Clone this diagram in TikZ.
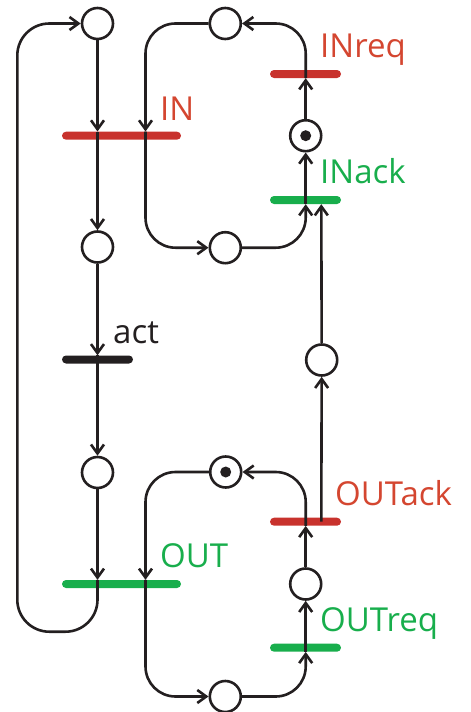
\documentclass[tikz,border=0pt]{standalone}
\usepackage{fontspec}
\setmainfont{Open Sans}
\usetikzlibrary{arrows.meta}
\definecolor{pnred}{RGB}{200,50,45}
\definecolor{pnredtxt}{RGB}{212,70,48}
\definecolor{pngreen}{RGB}{24,174,76}
\definecolor{pnblack}{RGB}{35,31,32}
\begin{document}
\begin{tikzpicture}[x=1pt,y=-1pt,
  place/.style={circle,draw=pnblack,line width=2.6pt,minimum size=31pt,inner sep=0pt,fill=white},
  token/.style={place,path picture={\fill[pnblack] (path picture bounding box.center) circle (5.5pt);}},
  bar/.style={rectangle,rounded corners=4pt,inner sep=0pt,minimum height=8pt,fill=#1},
  arc/.style={draw=pnblack,line width=2.6pt,-{Straight Barb[length=9pt,width=13pt]}},
  lbl/.style={inner sep=0pt,anchor=base west,font=\fontsize{33}{33}\selectfont}
]
\useasboundingbox (0,0) rectangle (471,712);
% column coordinates
\coordinate (cF) at (17.3,0);
\coordinate (cL) at (97.5,0);
\coordinate (cM) at (145.5,0);
\coordinate (cR) at (305.7,0);
\coordinate (cR2) at (321.3,0);
% transitions
\node[bar=pnred,minimum width=119pt] (IN) at (121.5,135.7) {};
\node[bar=pnblack,minimum width=71pt] (act) at (97.5,359.5) {};
\node[bar=pngreen,minimum width=119pt] (OUT) at (121.5,584) {};
\node[bar=pnred,minimum width=71pt] (INreq) at (305.5,74) {};
\node[bar=pngreen,minimum width=71pt] (INack) at (305.5,200) {};
\node[bar=pnred,minimum width=71pt] (OUTack) at (305.5,521.7) {};
\node[bar=pngreen,minimum width=71pt] (OUTreq) at (305.5,647.7) {};
% places
\node[place] (pL1) at (97.5,23.5) {};
\node[place] (pL2) at (97.5,247) {};
\node[place] (pL3) at (97.5,472.5) {};
\node[place] (pT) at (225.3,23.5) {};
\node[token] (pTok1) at (305.7,135.7) {};
\node[place] (pB) at (225.3,247.7) {};
\node[place] (pM) at (321.7,360) {};
\node[token] (pTok2) at (225.7,472) {};
\node[place] (pR) at (305.7,584) {};
\node[place] (pBot) at (225.3,696.5) {};
% labels
\node[lbl,text=pnredtxt] (tIN) at (160,120) {IN};
\node[lbl,text=pnredtxt] (tINreq) at (320,57.3) {INreq};
\node[lbl,text=pngreen] (tINack) at (320,183.3) {INack};
\node[lbl,text=pnblack] (tact) at (113,343.3) {act};
\node[lbl,text=pngreen] (tOUT) at (160,567.3) {OUT};
\node[lbl,text=pnredtxt] (tOUTack) at (335,505) {OUTack};
\node[lbl,text=pngreen] (tOUTreq) at (320,631.7) {OUTreq};
% left column
\draw[arc] (pL1) -- (IN.north -| cL);
\draw[arc] (IN.north -| cL) -- (pL2);
\draw[arc] (pL2) -- (act.north);
\draw[arc] (act.north) -- (pL3);
\draw[arc] (pL3) -- (OUT.north -| cL);
\draw[arc,rounded corners=32pt] (OUT.north -| cL) -- (97.5,631.7) -- (17.3,631.7) -- (17.3,23.5) -- (pL1.west);
% top right loop
\draw[arc,rounded corners=30pt] (pT.west) -- (145.5,23.5) -- (IN.north -| cM);
\draw[arc,rounded corners=30pt] (IN.north -| cM) -- (145.5,247.7) -- (pB.west);
\draw[arc,rounded corners=30pt] (pB.east) -- (305.7,247.7) -- (INack.south -| cR);
\draw[arc] (INack.south -| cR) -- (pTok1);
\draw[arc] (pTok1) -- (INreq.south -| cR);
\draw[arc,rounded corners=30pt] (INreq.south -| cR) -- (305.7,23.5) -- (pT.east);
% middle link
\draw[arc] (pM) -- (INack.south -| cR2);
\draw[arc] (OUTack.center -| cR2) -- (pM);
% bottom right loop
\draw[arc,rounded corners=30pt] (pTok2.west) -- (145.5,472) -- (OUT.north -| cM);
\draw[arc,rounded corners=30pt] (OUT.north -| cM) -- (145.5,696.5) -- (pBot.west);
\draw[arc,rounded corners=30pt] (pBot.east) -- (305.7,696.5) -- (OUTreq.south -| cR);
\draw[arc] (OUTreq.south -| cR) -- (pR);
\draw[arc] (pR) -- (OUTack.south -| cR);
\draw[arc,rounded corners=30pt] (OUTack.south -| cR) -- (305.7,472) -- (pTok2.east);
\end{tikzpicture}
\end{document}
